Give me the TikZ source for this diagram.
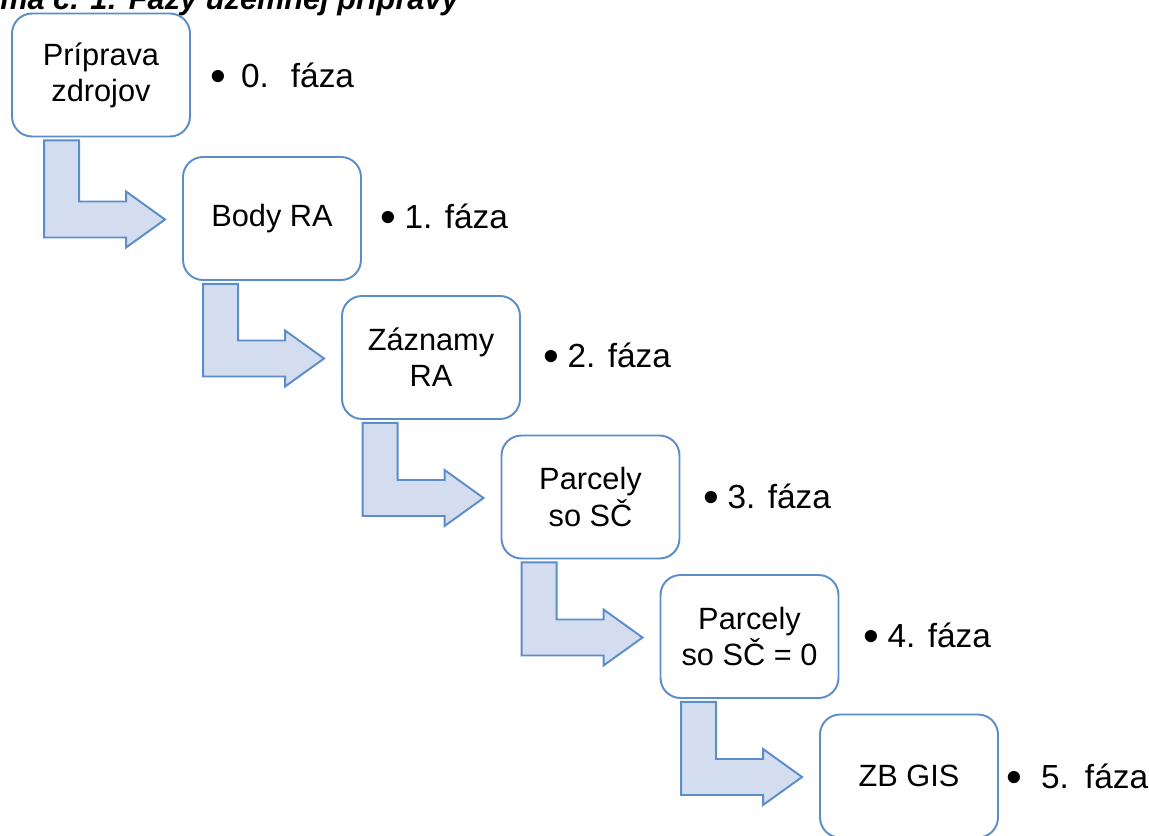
\documentclass[tikz,border=0pt]{standalone}
\usepackage{fontspec}
\setmainfont{Liberation Sans}
\usepackage{xcolor}
\usepackage{graphicx}
\usepackage{tikz}
\usetikzlibrary{calc}

\definecolor{boxblue}{RGB}{91,142,200}
\definecolor{arrowfill}{RGB}{211,221,239}

\newcommand{\phasebullet}{\raisebox{-2.4pt}{\scalebox{1.35}{•}}}

\tikzset{
  phasebox/.style={draw=boxblue, line width=1.1pt, rounded corners=0.4cm, fill=white,
    minimum width=3.56cm, minimum height=2.46cm, align=center, inner sep=2pt,
    font=\fontsize{17.5}{20.5}\selectfont},
  phaselabel/.style={anchor=base west, inner sep=0pt, font=\fontsize{19}{23}\selectfont},
  flowarrow/.style={draw=boxblue, line width=1.1pt, fill=arrowfill, line join=miter}
}

\begin{document}
\begin{tikzpicture}[x=0.02cm, y=-0.02cm]
    %\draw[step=50,gray,very thin] (0,0) grid (1149,835);
    \path[use as bounding box, clip] (0,0) rectangle (1149,835);

    \node[anchor=base east, font=\fontsize{17.5}{20.5}\selectfont\bfseries\itshape] (title)
      at (465,10) {Schéma č. 1: Fázy územnej prípravy};

    \node[phasebox] (b0) at (101,75) {Príprava\\zdrojov};
    \node[phasebox] (b1) at (272,218.5) {Body RA};
    \node[phasebox] (b2) at (431,357.5) {Záznamy\\RA};
    \node[phasebox] (b3) at (590.5,497) {Parcely\\so SČ};
    \node[phasebox] (b4) at (749.5,636.5) {Parcely\\so SČ = 0};
    \node[phasebox] (b5) at (909,776) {ZB GIS};

    % bent arrows
    \foreach \from/\to in {b0/b1, b1/b2, b2/b3, b3/b4, b4/b5}{
      \coordinate (tip-\to) at ($(\to.west)+(-17,1)$);
      \draw[flowarrow] (tip-\to) -- ++(-39,28) -- ++(0,-10) -- ++(-82,0)
        -- ($(tip-\to|-\from.south)+(-121,3)$) -- ++(35,0)
        -- ($(tip-\to)+(-86,-18)$) -- ++(47,0) -- ++(0,-10) -- cycle;
    }

    \node[phaselabel] (p0) at (210,87) {\phasebullet\hspace{0.3cm}0.\hspace{0.44cm}fáza};
    \node[phaselabel] (p1) at (380,228) {\phasebullet\hspace{0.17cm}1. fáza};
    \node[phaselabel] (p2) at (543,367) {\phasebullet\hspace{0.17cm}2. fáza};
    \node[phaselabel] (p3) at (703,508) {\phasebullet\hspace{0.17cm}3. fáza};
    \node[phaselabel] (p4) at (863,647) {\phasebullet\hspace{0.17cm}4. fáza};
    \node[phaselabel] (p5) at (1006,788) {\phasebullet\hspace{0.38cm}5.\hspace{0.32cm}fáza};

\end{tikzpicture}
\end{document}
